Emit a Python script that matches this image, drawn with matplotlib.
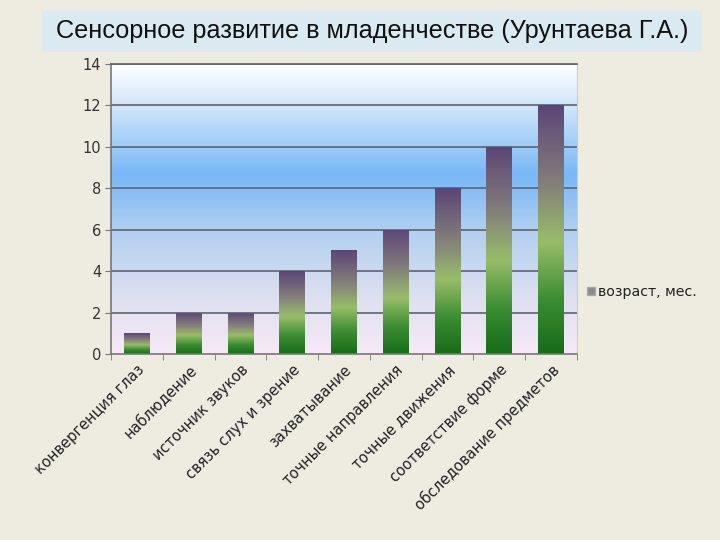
import numpy as np
import matplotlib
matplotlib.use("Agg")
import matplotlib.pyplot as plt
from matplotlib.colors import LinearSegmentedColormap
from matplotlib.patches import Rectangle
from matplotlib.lines import Line2D

categories = ["конвергенция глаз", "наблюдение", "источник звуков", "связь слух и зрение",
              "захватывание", "точные направления", "точные движения",
              "соответствие форме", "обследование предметов"]
values = [1, 2, 2, 4, 5, 6, 8, 10, 12]
series_name = "возраст, мес."
title = "Сенсорное развитие в младенчестве (Урунтаева Г.А.)"
yticks = [0, 2, 4, 6, 8, 10, 12, 14]

bg = "#eeebe1"
fig = plt.figure(figsize=(7.2, 5.4), dpi=100, facecolor=bg)

# title box
fig.patches.append(Rectangle((42/720, 1-52/540), 660/720, 42/540, transform=fig.transFigure,
                             facecolor="#dbeaf1", edgecolor="none", zorder=0))
fig.text(372/720, 1-31/540, title, ha="center", va="center", fontsize=18.2,
         family=["Liberation Sans", "DejaVu Sans"], color="#111111")

ax = fig.add_axes([111/720, 1-354/540, 466/720, 290/540])
ax.set_xlim(-0.5, len(values) - 0.5)
ax.set_ylim(0, 14)

# background gradient
bg_cmap = LinearSegmentedColormap.from_list("bgc", [
    (0.0, "#f8e9f6"), (0.2, "#dcdff0"), (0.42, "#b3d0f0"),
    (0.62, "#78b7f6"), (0.85, "#cfe5fa"), (1.0, "#fdfeff")])
grad = np.linspace(0, 1, 256).reshape(-1, 1)
ax.imshow(grad, cmap=bg_cmap, origin="lower", aspect="auto",
          extent=(-0.5, len(values) - 0.5, 0, 14), zorder=0)

# grid
for t in yticks[1:]:
    ax.axhline(t, color="#5c6374", lw=1.2, zorder=1)

bar_cmap = LinearSegmentedColormap.from_list("barc", [
    (0.0, "#176c19"), (0.22, "#3c8d33"), (0.45, "#98bd69"),
    (0.7, "#827c7a"), (1.0, "#5d4577")])
bars = ax.bar(range(len(values)), values, width=0.5, color="none", zorder=2)
for b in bars:
    x0, w, h = b.get_x(), b.get_width(), b.get_height()
    im = ax.imshow(grad, cmap=bar_cmap, origin="lower", aspect="auto",
                   extent=(x0, x0 + w, 0, h), zorder=2)
    im.set_clip_path(b)
ax.set_xlim(-0.5, len(values) - 0.5)
ax.set_ylim(0, 14)

ax.set_yticks(yticks)
ax.set_yticklabels([str(t) for t in yticks], fontsize=10.5, color="#333333")
ax.set_xticks(range(len(values)))
ax.set_xticklabels(categories, rotation=45, ha="right", rotation_mode="anchor",
                   fontsize=10.5, color="#222222")
ax.set_xticks(np.arange(-0.5, len(values), 1.0), minor=True)
ax.tick_params(axis="x", which="major", length=0, pad=6)
ax.tick_params(axis="x", which="minor", length=4, color="#777777", direction="out")
ax.tick_params(axis="y", length=4, color="#777777", direction="out", pad=3)
for s in ["left", "bottom"]:
    ax.spines[s].set_color("#777777")
    ax.spines[s].set_linewidth(1.2)
ax.spines["top"].set_color("#5c6374")
ax.spines["top"].set_linewidth(1.2)
ax.spines["right"].set_color("#cccccc")

handle = Line2D([], [], marker="s", linestyle="none", markersize=6,
                markerfacecolor="#8a8a8a", markeredgecolor="#aaaaaa")
fig.legend([handle], [series_name], loc="center left", bbox_to_anchor=(573/720, 1-292/540),
           frameon=False, fontsize=10.2, handletextpad=0.1, handlelength=0.8,
           labelcolor="#222222")

fig.savefig("out.png", dpi=100, facecolor=bg)
